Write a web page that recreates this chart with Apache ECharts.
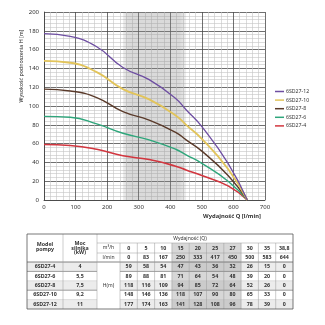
<!DOCTYPE html>
<html>
<head>
<meta charset="utf-8">
<script src="https://cdn.jsdelivr.net/npm/echarts@6/dist/echarts.min.js"></script>
<style>
html,body{margin:0;padding:0;background:#fff;}
#chart{width:325px;height:325px;}
</style>
</head>
<body>
<div id="chart"></div>
<script>
// Pump performance data: flow in m3/h and l/min, head H (m) per model
const flowM3h = ['0', '5', '10', '15', '20', '25', '27', '30', '35', '38,8'];
const flowLmin = [0, 83, 167, 250, 333, 417, 450, 500, 583, 644];
const models = ['6SD27-4', '6SD27-6', '6SD27-8', '6SD27-10', '6SD27-12'];
const powerKW = ['4', '5,5', '7,5', '9,2', '11'];
const head4 = [59, 58, 54, 47, 43, 36, 32, 26, 15, 0];
const head6 = [89, 88, 81, 71, 64, 54, 48, 39, 20, 0];
const head8 = [118, 116, 109, 94, 85, 72, 64, 52, 26, 0];
const head10 = [148, 146, 136, 118, 107, 90, 80, 65, 33, 0];
const head12 = [177, 174, 163, 141, 128, 108, 96, 78, 39, 0];
const recommendedRange = [250, 450];
const xTicks = [0, 700, 100];
const yTicks = [0, 200, 20];

const heads = [head4, head6, head8, head10, head12];
const colors = ['#d2363f', '#2ea67b', '#5a3a2a', '#e2c45a', '#6e4ea2'];
const widths = [1.6, 1.4, 1.4, 1.8, 1.3];

const FONT = 'Noto Sans';

const chart = echarts.init(document.getElementById('chart'), null, {renderer: 'canvas'});

const series = models.map((name, i) => ({
  name: name,
  type: 'line',
  smooth: 0.5,
  symbol: 'none',
  data: flowLmin.map((q, k) => [q, heads[i][k]]),
  lineStyle: {color: colors[i], width: widths[i]},
  itemStyle: {color: colors[i]},
  z: 3 + i
}));

// shaded recommended working range
series.push({
  name: 'range',
  type: 'line',
  data: [],
  silent: true,
  markArea: {
    silent: true,
    itemStyle: {
      color: new echarts.graphic.LinearGradient(0, 0, 1, 0, [
        {offset: 0, color: 'rgba(140,140,140,0.14)'},
        {offset: 0.08, color: 'rgba(140,140,140,0.32)'},
        {offset: 0.9, color: 'rgba(140,140,140,0.32)'},
        {offset: 1, color: 'rgba(140,140,140,0.14)'}
      ])
    },
    data: [[{xAxis: recommendedRange[0]}, {xAxis: recommendedRange[1]}]]
  },
  z: 1
});

// ---- table drawn as graphic elements ----
const T = {left: 27, right: 293, top: 234};
const colX = [27, 63, 97, 120];
const dataW = (T.right - 120) / flowM3h.length;
for (let k = 1; k <= flowM3h.length; k++) colX.push(120 + dataW * k);
const rowY = [234, 243, 253, 262];
const rowH = 9.4;
for (let r = 1; r <= models.length; r++) rowY.push(262 + rowH * r);
const bottom = rowY[rowY.length - 1];
const shadedCols = [3, 4, 5, 6];
const tableFont = 'bold 5.3px "' + FONT + '"';
const txtColor = '#333';
const g = [];

function rect(x, y, w, h, fill) {
  g.push({type: 'rect', shape: {x: x, y: y, width: w, height: h}, style: {fill: fill}, silent: true, z: 1});
}
function line(x1, y1, x2, y2, color, w) {
  g.push({type: 'line', shape: {x1: x1, y1: y1, x2: x2, y2: y2}, style: {stroke: color, lineWidth: w}, silent: true, z: 2});
}
function text(str, x, y, font) {
  g.push({type: 'text', x: x, y: y, style: {text: str, font: font || tableFont, fill: txtColor, align: 'center', verticalAlign: 'middle', lineHeight: 4.6}, silent: true, z: 3});
}

// zebra rows
models.forEach((m, r) => {
  if (r % 2 === 0) {
    rect(colX[0], rowY[3 + r], colX[2] - colX[0], rowH, '#ececec');
    rect(colX[3], rowY[3 + r], T.right - colX[3], rowH, '#ececec');
  }
});
// shaded flow columns
shadedCols.forEach(c => {
  rect(colX[3 + c], rowY[1], dataW, bottom - rowY[1], 'rgba(150,150,150,0.38)');
});

// grid lines
line(colX[2], rowY[1], T.right, rowY[1], '#999', 0.5);
line(colX[2], rowY[2], T.right, rowY[2], '#999', 0.5);
line(colX[0], rowY[3], T.right, rowY[3], '#666', 0.8);
for (let r = 1; r < models.length; r++) {
  const strong = (r === 1 || r === 3);
  line(colX[0], rowY[3 + r], colX[2], rowY[3 + r], strong ? '#777' : '#bbb', strong ? 0.7 : 0.4);
  line(colX[3], rowY[3 + r], T.right, rowY[3 + r], strong ? '#777' : '#bbb', strong ? 0.7 : 0.4);
}
line(colX[1], T.top, colX[1], bottom, '#999', 0.5);
line(colX[2], T.top, colX[2], bottom, '#999', 0.5);
for (let c = 3; c < colX.length - 1; c++) {
  line(colX[c], rowY[1], colX[c], bottom, '#999', 0.5);
}
// outer border
g.push({type: 'rect', shape: {x: T.left, y: T.top, width: T.right - T.left, height: bottom - T.top},
  style: {fill: 'none', stroke: '#555', lineWidth: 0.8}, silent: true, z: 4});

// header texts
text('Model\npompy', (colX[0] + colX[1]) / 2, 247);
text('Moc\nsilnika\n(kW)', (colX[1] + colX[2]) / 2, 248);
text('Wydajność (Q)', 190, (rowY[0] + rowY[1]) / 2 + 0.5, '5px "' + FONT + '"');
text('m³/h', (colX[2] + colX[3]) / 2, (rowY[1] + rowY[2]) / 2, '5px "' + FONT + '"');
text('l/min', (colX[2] + colX[3]) / 2, (rowY[2] + rowY[3]) / 2, '5px "' + FONT + '"');
text('H(m)', (colX[2] + colX[3]) / 2, (rowY[3] + bottom) / 2, '5px "' + FONT + '"');
flowM3h.forEach((v, k) => text(v, colX[3 + k] + dataW / 2, (rowY[1] + rowY[2]) / 2));
flowLmin.forEach((v, k) => text(String(v), colX[3 + k] + dataW / 2, (rowY[2] + rowY[3]) / 2));
models.forEach((m, r) => {
  const cy = rowY[3 + r] + rowH / 2;
  text(m, (colX[0] + colX[1]) / 2, cy);
  text(powerKW[r], (colX[1] + colX[2]) / 2, cy);
  heads[r].forEach((v, k) => text(String(v), colX[3 + k] + dataW / 2, cy));
});

// axis titles
g.push({type: 'text', x: 21, y: 66, rotation: Math.PI / 2,
  style: {text: 'Wysokość podnoszenia H [m]', font: '5.3px "' + FONT + '"', fill: '#222', align: 'center', verticalAlign: 'middle'}, silent: true});
g.push({type: 'text', x: 232, y: 216,
  style: {text: 'Wydajność Q [l/min]', font: 'bold 5.8px "' + FONT + '"', fill: '#333', align: 'center', verticalAlign: 'middle'}, silent: true});

chart.setOption({
  animation: false,
  backgroundColor: '#fff',
  grid: {left: 44, top: 12, right: 60, bottom: 125, containLabel: false},
  legend: {
    orient: 'vertical',
    left: 270,
    top: 84,
    itemWidth: 9,
    itemHeight: 1.5,
    itemGap: 3.6,
    icon: 'rect',
    data: models.slice().reverse(),
    textStyle: {fontFamily: FONT, fontSize: 5.2, color: '#333', padding: [0, 0, 0, -3]}
  },
  xAxis: {
    type: 'value',
    min: xTicks[0], max: xTicks[1], interval: xTicks[2],
    axisLine: {show: true, lineStyle: {color: '#444', width: 0.8}},
    axisTick: {show: false},
    axisLabel: {fontFamily: FONT, fontSize: 6, color: '#333', margin: 4},
    splitLine: {show: true, lineStyle: {color: '#4a4a4a', width: 0.8}},
    minorTick: {show: false, splitNumber: 5},
    minorSplitLine: {show: true, lineStyle: {color: '#c4c4c4', width: 0.6}}
  },
  yAxis: {
    type: 'value',
    min: yTicks[0], max: yTicks[1], interval: yTicks[2],
    axisLine: {show: true, lineStyle: {color: '#444', width: 0.8}},
    axisTick: {show: false},
    axisLabel: {fontFamily: FONT, fontSize: 6, color: '#333', margin: 5},
    splitLine: {show: true, lineStyle: {color: '#4a4a4a', width: 0.8}},
    minorTick: {show: false, splitNumber: 5},
    minorSplitLine: {show: true, lineStyle: {color: '#c4c4c4', width: 0.6}}
  },
  series: series,
  graphic: g
});
</script>
</body>
</html>
